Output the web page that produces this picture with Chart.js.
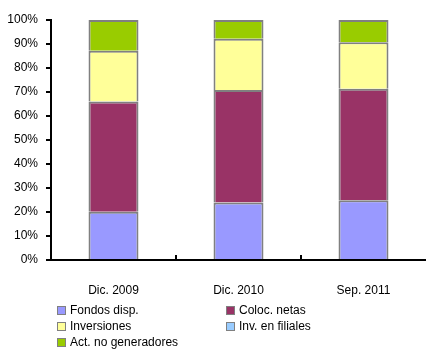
<!DOCTYPE html>
<html lang="es">
<head>
	<meta charset="utf-8">
	<title>Estructura del activo</title>
	<script src="https://cdn.jsdelivr.net/npm/chart.js@4.4.1/dist/chart.umd.min.js"></script>
	<style type="text/css">
		body { margin: 0; background: #fff; }
		#wrap { position: relative; width: 426px; height: 349px; }
		#legend {
			position: absolute; left: 57px; top: 302px; width: 369px;
			font-family: "Liberation Sans", Arial, sans-serif;
			font-size: 12px; color: #000;
		}
		#legend .item { position: absolute; height: 16px; line-height: 16px; white-space: nowrap; }
		#legend .box {
			display: inline-block; width: 7px; height: 7px; border: 1px solid #808080;
			margin-right: 4px; vertical-align: -1px;
		}
	</style>
</head>
<body>
<div id="wrap">
	<canvas id="chart" width="426" height="349"></canvas>
	<div id="legend"></div>
</div>
<script type="text/javascript">
	// categorías y series (porcentaje del activo)
	var categories = ["Dic. 2009", "Dic. 2010", "Sep. 2011"];
	var fondosDisp = [20.1, 24.0, 24.9];
	var colocNetas = [45.9, 46.8, 46.5];
	var inversiones = [21.2, 21.4, 19.3];
	var invFiliales = [0, 0, 0];
	var actNoGen = [12.8, 7.8, 9.3];
	var yTicks = [0, 10, 20, 30, 40, 50, 60, 70, 80, 90, 100];

	var fontFamily = '"Liberation Sans", Arial, sans-serif';

	var series = [
		{ label: "Fondos disp.", data: fondosDisp, color: "#9999FF" },
		{ label: "Coloc. netas", data: colocNetas, color: "#993366" },
		{ label: "Inversiones", data: inversiones, color: "#FFFF99" },
		{ label: "Inv. en filiales", data: invFiliales, color: "#99CCFF" },
		{ label: "Act. no generadores", data: actNoGen, color: "#99CC00" }
	];

	// marcas pequeñas hacia adentro entre categorías
	var innerTicks = {
		id: "innerTicks",
		afterDraw: function(chart) {
			var x = chart.scales.x;
			var ctx = chart.ctx;
			var bottom = chart.chartArea.bottom;
			ctx.save();
			ctx.strokeStyle = "#000";
			ctx.lineWidth = 2;
			for (var i = 0; i < categories.length - 1; i++) {
				var px = Math.round(x.getPixelForValue(i + 0.5));
				ctx.beginPath();
				ctx.moveTo(px, bottom - 5);
				ctx.lineTo(px, bottom);
				ctx.stroke();
			}
			ctx.restore();
		}
	};

	var ctx = document.querySelector("#chart").getContext("2d");
	var chart = new Chart(ctx, {
		type: "bar",
		data: {
			labels: categories,
			datasets: series.map(function(s) {
				return {
					label: s.label,
					data: s.data,
					backgroundColor: s.color,
					borderColor: "#808080",
					borderWidth: 2
				};
			})
		},
		options: {
			responsive: false,
			animation: false,
			layout: { padding: { top: 20, right: 0, left: 0, bottom: 0 } },
			datasets: { bar: { categoryPercentage: 1, barPercentage: 0.4 } },
			plugins: { legend: { display: false }, tooltip: { enabled: false } },
			scales: {
				x: {
					stacked: true,
					grid: { display: false },
					border: { display: true, color: "#000", width: 2 },
					ticks: { color: "#000", padding: 15, font: { family: fontFamily, size: 12 } },
					afterFit: function(scale) { scale.height = 89; }
				},
				y: {
					stacked: true,
					min: 0,
					max: 100,
					afterBuildTicks: function(scale) {
						scale.ticks = yTicks.map(function(v) { return { value: v }; });
					},
					grid: { drawOnChartArea: false, color: "#000", tickLength: 5, lineWidth: 2 },
					border: { display: true, color: "#000", width: 2 },
					ticks: {
						color: "#000", padding: 8,
						font: { family: fontFamily, size: 12 },
						callback: function(v) { return v + "%"; }
					},
					afterFit: function(scale) { scale.width = 51; }
				}
			}
		},
		plugins: [innerTicks]
	});

	// leyenda en dos columnas
	var legend = document.getElementById("legend");
	series.forEach(function(s, i) {
		var item = document.createElement("div");
		item.className = "item";
		item.style.left = (i % 2 === 0 ? 0 : 169) + "px";
		item.style.top = (Math.floor(i / 2) * 16) + "px";
		var box = document.createElement("span");
		box.className = "box";
		box.style.background = s.color;
		item.appendChild(box);
		item.appendChild(document.createTextNode(s.label));
		legend.appendChild(item);
	});
</script>
</body>
</html>
